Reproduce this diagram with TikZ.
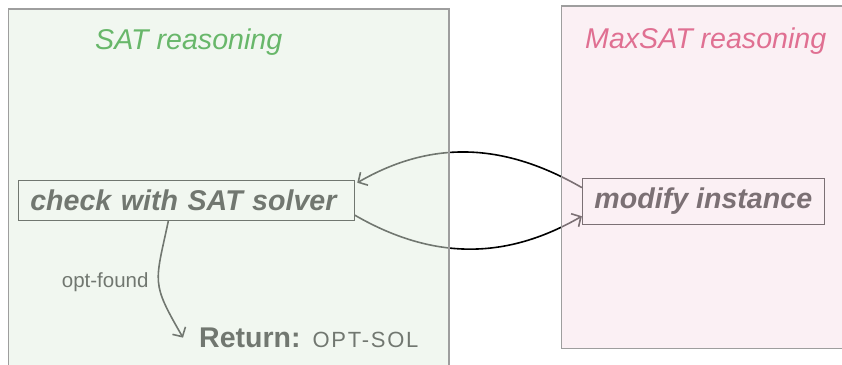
\documentclass[tikz,border=0pt]{standalone}
\usepackage{fontspec}
\setmainfont{Liberation Sans}
\usetikzlibrary{arrows.meta}
\definecolor{satfill}{RGB}{227,239,225}
\definecolor{maxfill}{RGB}{247,225,233}
\definecolor{framegrey}{RGB}{158,158,158}
\definecolor{satgreen}{RGB}{104,183,106}
\definecolor{maxpink}{RGB}{224,112,146}
\tikzset{
  stepbox/.style={draw=black, line width=0.9pt, inner ysep=0pt,
    font=\fontsize{28.6}{34}\selectfont\bfseries\itshape},
  flow/.style={line width=1.6pt, -{Straight Barb[length=7pt,width=15pt]}},
  region/.style={draw=framegrey, line width=1.2pt, fill opacity=0.5},
  title/.style={anchor=base west, inner sep=0pt,
    font=\fontsize{28.6}{32}\selectfont\itshape},
  plain/.style={anchor=base west, inner sep=0pt},
}
\begin{document}
\begin{tikzpicture}[x=1pt,y=1pt]
\useasboundingbox (0,0) rectangle (842,-364);
\clip (0,0) rectangle (842,-364);

% process steps
\node[stepbox, text width=312pt, align=left, inner xsep=12pt, minimum height=40pt]
  (check) at (186.3,-200.7) {check with SAT solver};
\node[stepbox, minimum width=242pt, minimum height=46.7pt, inner xsep=0pt]
  (modify) at (703.3,-201.4) {modify instance};
\node[plain, font=\fontsize{28.5}{32}\selectfont] (ret) at (199,-347.3)
  {\textbf{Return:}\hspace{12pt}{\fontsize{22}{26}\selectfont\addfontfeature{LetterSpace=8}OPT-SOL}};
\node[plain, font=\fontsize{20.5}{24}\selectfont] (optlbl) at (61.7,-287.5) {opt-found};

% connectors
\draw[flow] ([yshift=-10pt]modify.north west) to[out=150,in=30]
  ([xshift=2.5pt,yshift=-2.5pt]check.north east);
\draw[flow] ([yshift=6pt]check.south east) to[out=-30,in=210]
  ([yshift=9pt]modify.south west);
\draw[flow] ([xshift=-18pt]check.south) to[out=-102,in=120,looseness=1.4]
  ([xshift=-16pt]ret.west);

% translucent reasoning areas laid over the steps
\path[region, fill=satfill] (8.3,-9) rectangle (449,-380);
\path[region, fill=maxfill] (561.7,-6) rectangle (860,-348.3);

% area titles
\node[title, text=satgreen] (sattitle) at (95,-49) {SAT reasoning};
\node[title, text=maxpink] (maxtitle) at (585,-48) {MaxSAT reasoning};
\end{tikzpicture}
\end{document}
